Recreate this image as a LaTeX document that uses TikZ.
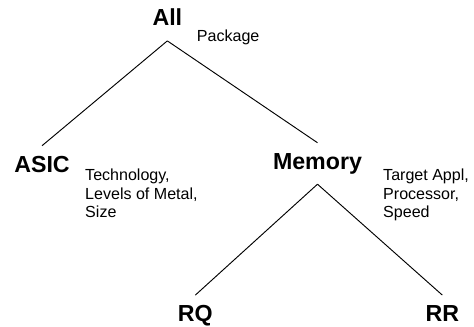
\documentclass[tikz,border=0pt]{standalone}
\usepackage{fontspec}
\setmainfont{Liberation Sans}

\begin{document}
\begin{tikzpicture}[
    catnode/.style={font=\fontsize{19.8}{23}\selectfont\bfseries, anchor=base, inner xsep=2pt, inner ysep=8.5pt, text height=14pt, text depth=4pt},
    attrtext/.style={font=\fontsize{13.7}{16.2}\selectfont, anchor=base west, align=left, inner sep=0pt},
    branch/.style={black, line width=0.8pt}
]
\useasboundingbox (0,0) rectangle (14.22,9.81);

% categories
\node[catnode] (all) at (5.02, 9.03) {All};
\node[catnode] (asic) at (1.26, 4.64) {ASIC};
\node[catnode] (memory) at (9.525, 4.73) {Memory};
\node[catnode] (rq) at (5.86, 0.159) {RQ};
\node[catnode] (rr) at (13.27, 0.159) {RR};

% attributes next to each category (anchored on the last line)
\node[attrtext] (allattr) at (5.9, 8.565) {Package};
\node[attrtext] (asicattr) at (2.55, 3.27) {Technology,\\Levels of Metal,\\Size};
\node[attrtext] (memattr) at (11.49, 3.27) {Target Appl,\\Processor,\\Speed};

% tree branches
\draw[branch] (all.south) -- (asic.north);
\draw[branch] (all.south) -- (memory.north);
\draw[branch] (memory.south) -- (rq.north);
\draw[branch] (memory.south) -- (rr.north);

\end{tikzpicture}
\end{document}
